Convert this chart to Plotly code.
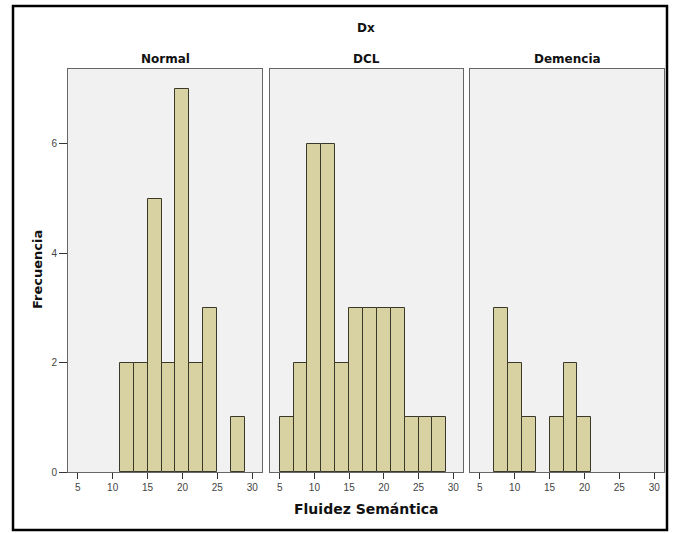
import plotly.graph_objects as go

# Data: histogram of "Fluidez Semántica" by Dx, bins of width 2 (5-7, 7-9, ..., 27-29)
groups = ["Normal", "DCL", "Demencia"]
bin_centers = [6, 8, 10, 12, 14, 16, 18, 20, 22, 24, 26, 28]
counts_normal = [0, 0, 0, 2, 2, 5, 2, 7, 2, 3, 0, 1]
counts_dcl = [1, 2, 6, 6, 2, 3, 3, 3, 3, 1, 1, 1]
counts_demencia = [0, 3, 2, 1, 0, 1, 2, 1, 0, 0, 0, 0]
bin_width = 2
x_ticks = [5, 10, 15, 20, 25, 30]
y_ticks = [0, 2, 4, 6]

all_counts = [counts_normal, counts_dcl, counts_demencia]

W, H = 675, 533
ml, mr, mt, mb = 68, 11, 69, 61
pw = W - ml - mr
ph = H - mt - mb

def px_x(p):
    return (p - ml) / pw

def px_y(p):
    return (H - mb - p) / ph

domains = [[px_x(68), px_x(262)], [px_x(270), px_x(463)], [px_x(470), px_x(664)]]

fig = go.Figure()
bar_color = "#d8d2a2"
edge_color = "#3a3828"

for i, (g, cnts) in enumerate(zip(groups, all_counts)):
    xs = [c for c, v in zip(bin_centers, cnts) if v > 0]
    ys = [v for v in cnts if v > 0]
    suffix = "" if i == 0 else str(i + 1)
    fig.add_trace(go.Bar(
        x=xs, y=ys, width=bin_width,
        marker=dict(color=bar_color, line=dict(color=edge_color, width=1)),
        xaxis="x" + suffix, yaxis="y" + suffix, showlegend=False,
    ))

tickfont = dict(family="Liberation Sans", size=10, color="#444")
layout = dict(
    width=W, height=H,
    margin=dict(l=ml, r=mr, t=mt, b=mb, pad=0),
    paper_bgcolor="white",
    plot_bgcolor="#f1f1f1",
    bargap=0,
)
for i in range(3):
    suffix = "" if i == 0 else str(i + 1)
    layout["xaxis" + suffix] = dict(
        domain=domains[i], range=[3.6, 31.4], anchor="y" + suffix,
        tickvals=x_ticks, ticks="outside", ticklen=6, tickcolor="#333",
        tickfont=tickfont, showgrid=False, zeroline=False,
        showline=True, linecolor="#666", linewidth=1, mirror=True,
    )
    layout["yaxis" + suffix] = dict(
        domain=[0, 1], range=[0, 7.37], anchor="x" + suffix,
        tickvals=y_ticks if i == 0 else [],
        showticklabels=(i == 0),
        ticks="outside" if i == 0 else "", ticklen=8, tickcolor="#333",
        tickfont=tickfont, showgrid=False, zeroline=False,
        showline=True, linecolor="#666", linewidth=1, mirror=True,
    )
fig.update_layout(**layout)

title_font = dict(family="DejaVu Sans", size=12, color="#111")
annotations = [
    dict(text="<b>Dx</b>", x=px_x(366), y=px_y(28), xref="paper", yref="paper",
         showarrow=False, font=title_font, xanchor="center", yanchor="middle"),
    dict(text="<b>Fluidez Semántica</b>", x=px_x(366), y=px_y(509), xref="paper", yref="paper",
         showarrow=False, font=dict(family="DejaVu Sans", size=14, color="#111"),
         xanchor="center", yanchor="middle"),
    dict(text="<b>Frecuencia</b>", x=px_x(37), y=px_y(270), xref="paper", yref="paper",
         showarrow=False, font=dict(family="DejaVu Sans", size=13, color="#111"),
         textangle=-90, xanchor="center", yanchor="middle"),
]
for i, g in enumerate(groups):
    annotations.append(dict(
        text="<b>" + g + "</b>", x=(domains[i][0] + domains[i][1]) / 2, y=px_y(59),
        xref="paper", yref="paper", showarrow=False, font=title_font,
        xanchor="center", yanchor="middle"))
fig.update_layout(annotations=annotations)

fig.add_shape(type="rect", xref="paper", yref="paper",
              x0=px_x(13), x1=px_x(667), y0=px_y(530), y1=px_y(6),
              line=dict(color="black", width=2.5), fillcolor="rgba(0,0,0,0)", layer="above")

fig.write_html("out.html")
